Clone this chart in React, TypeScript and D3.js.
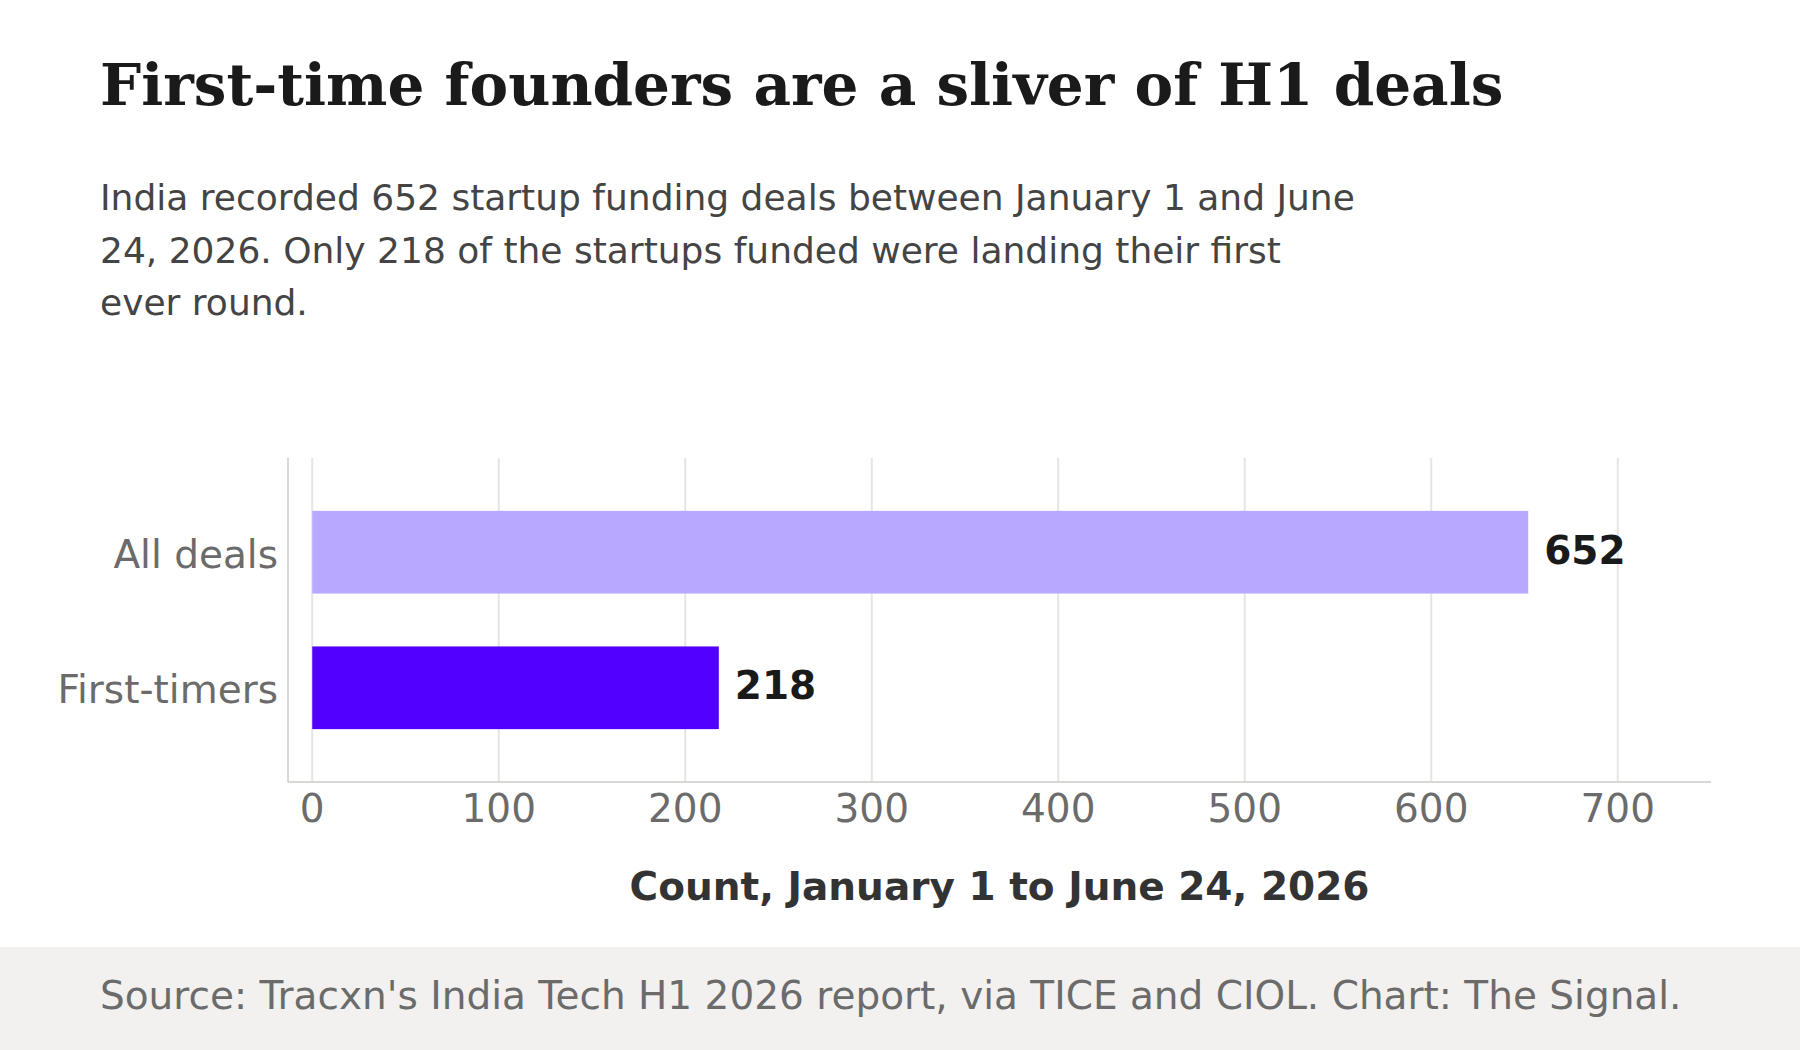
import React from "react";
import * as d3 from "d3";

const categories = ["All deals", "First-timers"];
const values = [652, 218];
const barColors = ["#b8a9ff", "#5200ff"];
const xTicks = [0, 100, 200, 300, 400, 500, 600, 700];

const title = "First-time founders are a sliver of H1 deals";
const subtitleLines = [
  "India recorded 652 startup funding deals between January 1 and June",
  "24, 2026. Only 218 of the startups funded were landing their first",
  "ever round.",
];
const axisTitle = "Count, January 1 to June 24, 2026";
const source = "Source: Tracxn's India Tech H1 2026 report, via TICE and CIOL. Chart: The Signal.";

const W = 1800;
const H = 1050;
const plot = { left: 288, right: 1711, top: 458, bottom: 782 };
const SANS = "'DejaVu Sans', sans-serif";
const SERIF = "'DejaVu Serif', serif";

export default function App() {
  const x = d3.scaleLinear().domain([-13, 750]).range([plot.left, plot.right]);
  const y = d3
    .scaleBand<string>()
    .domain(categories)
    .range([plot.top, plot.bottom])
    .paddingInner(0.39)
    .paddingOuter(0.39);

  return (
    <svg
      width={W}
      height={H}
      viewBox={`0 0 ${W} ${H}`}
      style={{ position: "absolute", left: 0, top: 0, background: "#fff" }}
    >
      <rect x={0} y={0} width={W} height={H} fill="#ffffff" />
      <text x={100} y={105} fontFamily={SERIF} fontWeight="bold" fontSize={58} fill="#1a1a1a">
        {title}
      </text>
      <text fontFamily={SANS} fontSize={36} fill="#444444">
        {subtitleLines.map((l, i) => (
          <tspan key={i} x={100} y={210 + i * 52.5}>
            {l}
          </tspan>
        ))}
      </text>

      {/* gridlines */}
      {xTicks.map((t) => (
        <line
          key={t}
          x1={x(t)}
          x2={x(t)}
          y1={plot.top}
          y2={plot.bottom}
          stroke="#e6e5e2"
          strokeWidth={2}
        />
      ))}
      {/* axis lines */}
      <line x1={plot.left} x2={plot.left} y1={plot.top} y2={plot.bottom} stroke="#d9d8d4" strokeWidth={2} />
      <line x1={plot.left} x2={plot.right} y1={plot.bottom} y2={plot.bottom} stroke="#d9d8d4" strokeWidth={2} />

      {/* bars */}
      {categories.map((c, i) => (
        <g key={c}>
          <rect
            x={x(0)}
            y={y(c)}
            width={x(values[i]) - x(0)}
            height={y.bandwidth()}
            fill={barColors[i]}
          />
          <text
            x={x(values[i]) + 16}
            y={(y(c) as number) + y.bandwidth() / 2}
            dy="0.3em"
            fontFamily={SANS}
            fontWeight="bold"
            fontSize={39}
            fill="#1a1a1a"
          >
            {values[i]}
          </text>
          <text
            x={278}
            y={(y(c) as number) + y.bandwidth() / 2}
            dy="0.4em"
            textAnchor="end"
            fontFamily={SANS}
            fontSize={39}
            fill="#6b6b6b"
          >
            {c}
          </text>
        </g>
      ))}

      {/* tick labels */}
      {xTicks.map((t) => (
        <text
          key={t}
          x={x(t)}
          y={822}
          textAnchor="middle"
          fontFamily={SANS}
          fontSize={39}
          fill="#6b6b6b"
        >
          {t}
        </text>
      ))}
      <text
        x={(plot.left + plot.right) / 2}
        y={900}
        textAnchor="middle"
        fontFamily={SANS}
        fontWeight="bold"
        fontSize={39}
        fill="#333333"
      >
        {axisTitle}
      </text>

      {/* footer */}
      <rect x={0} y={947} width={W} height={H - 947} fill="#f2f1ef" />
      <text x={100} y={1009} fontFamily={SANS} fontSize={39} fill="#6b6b6b">
        {source}
      </text>
    </svg>
  );
}
